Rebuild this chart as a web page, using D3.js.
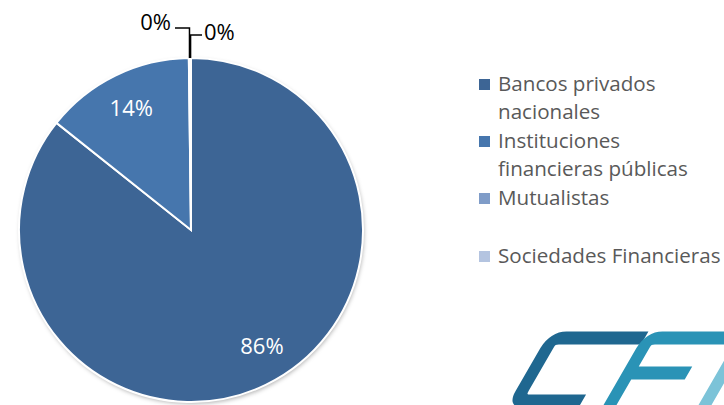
<!DOCTYPE html>
<html>
<head>
<meta charset="utf-8">
<script src="https://cdn.jsdelivr.net/npm/d3@7"></script>
<style>
  body { margin: 0; background: #fff; }
  svg { display: block; font-family: "Open Sans", Lato, sans-serif; }
</style>
</head>
<body>
<div id="chart"></div>
<script>
const categories = ["Bancos privados nacionales", "Instituciones financieras públicas", "Mutualistas", "Sociedades Financieras"];
const legendLines = [["Bancos privados", "nacionales"], ["Instituciones", "financieras públicas"], ["Mutualistas"], ["Sociedades Financieras"]];
const values = [85.7, 14.1, 0.12, 0.08];
const labels = ["86%", "14%", "0%", "0%"];
const colors = ["#3d6595", "#4676ad", "#7f9cc8", "#b4c4e0"];

const width = 724, height = 405;
const cx = 191, cy = 230, radius = 172;

const svg = d3.select("#chart").append("svg")
  .attr("width", width).attr("height", height);

const defs = svg.append("defs");
const shadow = defs.append("filter").attr("id", "shadow")
  .attr("x", "-10%").attr("y", "-10%").attr("width", "120%").attr("height", "120%");
shadow.append("feDropShadow").attr("dx", 1).attr("dy", 2).attr("stdDeviation", 2)
  .attr("flood-color", "#000").attr("flood-opacity", 0.3);

const pie = d3.pie().sort(null).value(d => d);
const arcs = pie(values);
const arc = d3.arc().innerRadius(0).outerRadius(radius);

const g = svg.append("g").attr("transform", `translate(${cx},${cy})`);

g.append("circle").attr("r", radius).attr("fill", "#fff").attr("filter", "url(#shadow)");

g.selectAll("path.slice")
  .data(arcs)
  .enter()
  .append("path")
  .attr("class", "slice")
  .attr("d", arc)
  .attr("fill", (d, i) => colors[i])
  .attr("stroke", "#fff")
  .attr("stroke-width", 2);

// labels inside the two big slices (excel nudges the big one a bit)
const labelR = radius * 0.79;
const nudge = [-0.1, 0];
g.selectAll("text.inlabel")
  .data(arcs.slice(0, 2))
  .enter()
  .append("text")
  .attr("class", "inlabel")
  .attr("transform", (d, i) => {
    const a = (d.startAngle + d.endAngle) / 2 + nudge[i];
    return `translate(${Math.sin(a) * labelR},${-Math.cos(a) * labelR})`;
  })
  .attr("text-anchor", "middle")
  .attr("dy", "0.35em")
  .attr("fill", "#fff")
  .attr("font-size", 22)
  .text((d, i) => labels[i]);

// outside labels with leader lines for the tiny slices
const edge = d3.arc().innerRadius(radius).outerRadius(radius);
const outside = [
  { i: 2, lineY: -202, lineX: -16, textX: -20, textY: -208, anchor: "end" },
  { i: 3, lineY: -195, lineX: 11, textX: 13, textY: -198, anchor: "start" }
];
outside.forEach(o => {
  const p = edge.centroid(arcs[o.i]);
  g.append("path")
    .attr("d", `M${p[0]},${p[1]}L${p[0]},${o.lineY}L${o.lineX},${o.lineY}`)
    .attr("fill", "none")
    .attr("stroke", "#000")
    .attr("stroke-width", 1.5);
  g.append("text")
    .attr("x", o.textX).attr("y", o.textY)
    .attr("text-anchor", o.anchor)
    .attr("dy", "0.35em")
    .attr("font-size", 22)
    .attr("fill", "#000")
    .text(labels[o.i]);
});

// legend
const legendRows = [84, 141, 198, 256];
const legend = svg.append("g").attr("transform", "translate(479,0)");
legendLines.forEach((lines, i) => {
  legend.append("rect")
    .attr("x", 0).attr("y", legendRows[i] - 5)
    .attr("width", 11).attr("height", 11)
    .attr("fill", colors[i]);
  lines.forEach((line, j) => {
    legend.append("text")
      .attr("x", 19).attr("y", legendRows[i] + j * 28)
      .attr("dy", "0.35em")
      .attr("font-size", 20.6)
      .attr("fill", "#595959")
      .text(line);
  });
});

// logo (decorative)
const logo = svg.append("g").attr("transform", "translate(540,405) skewX(-30)");
logo.append("path")
  .attr("d", "M66,-67 L-16,-67 Q-26,-67 -26,-57 L-26,-14 Q-26,-4 -16,-4 L40,-4")
  .attr("fill", "none").attr("stroke", "#1f6790").attr("stroke-width", 13)
  .attr("stroke-linejoin", "round");
logo.append("path")
  .attr("d", "M150,-67 L80,-67 Q70,-67 70,-57 L70,10 M72,-32 L130,-32")
  .attr("fill", "none").attr("stroke", "#2a93b6").attr("stroke-width", 13);
logo.append("path")
  .attr("d", "M165,10 L165,-57 Q165,-67 175,-67 L230,-67")
  .attr("fill", "none").attr("stroke", "#7cc3d8").attr("stroke-width", 13);
</script>
</body>
</html>
